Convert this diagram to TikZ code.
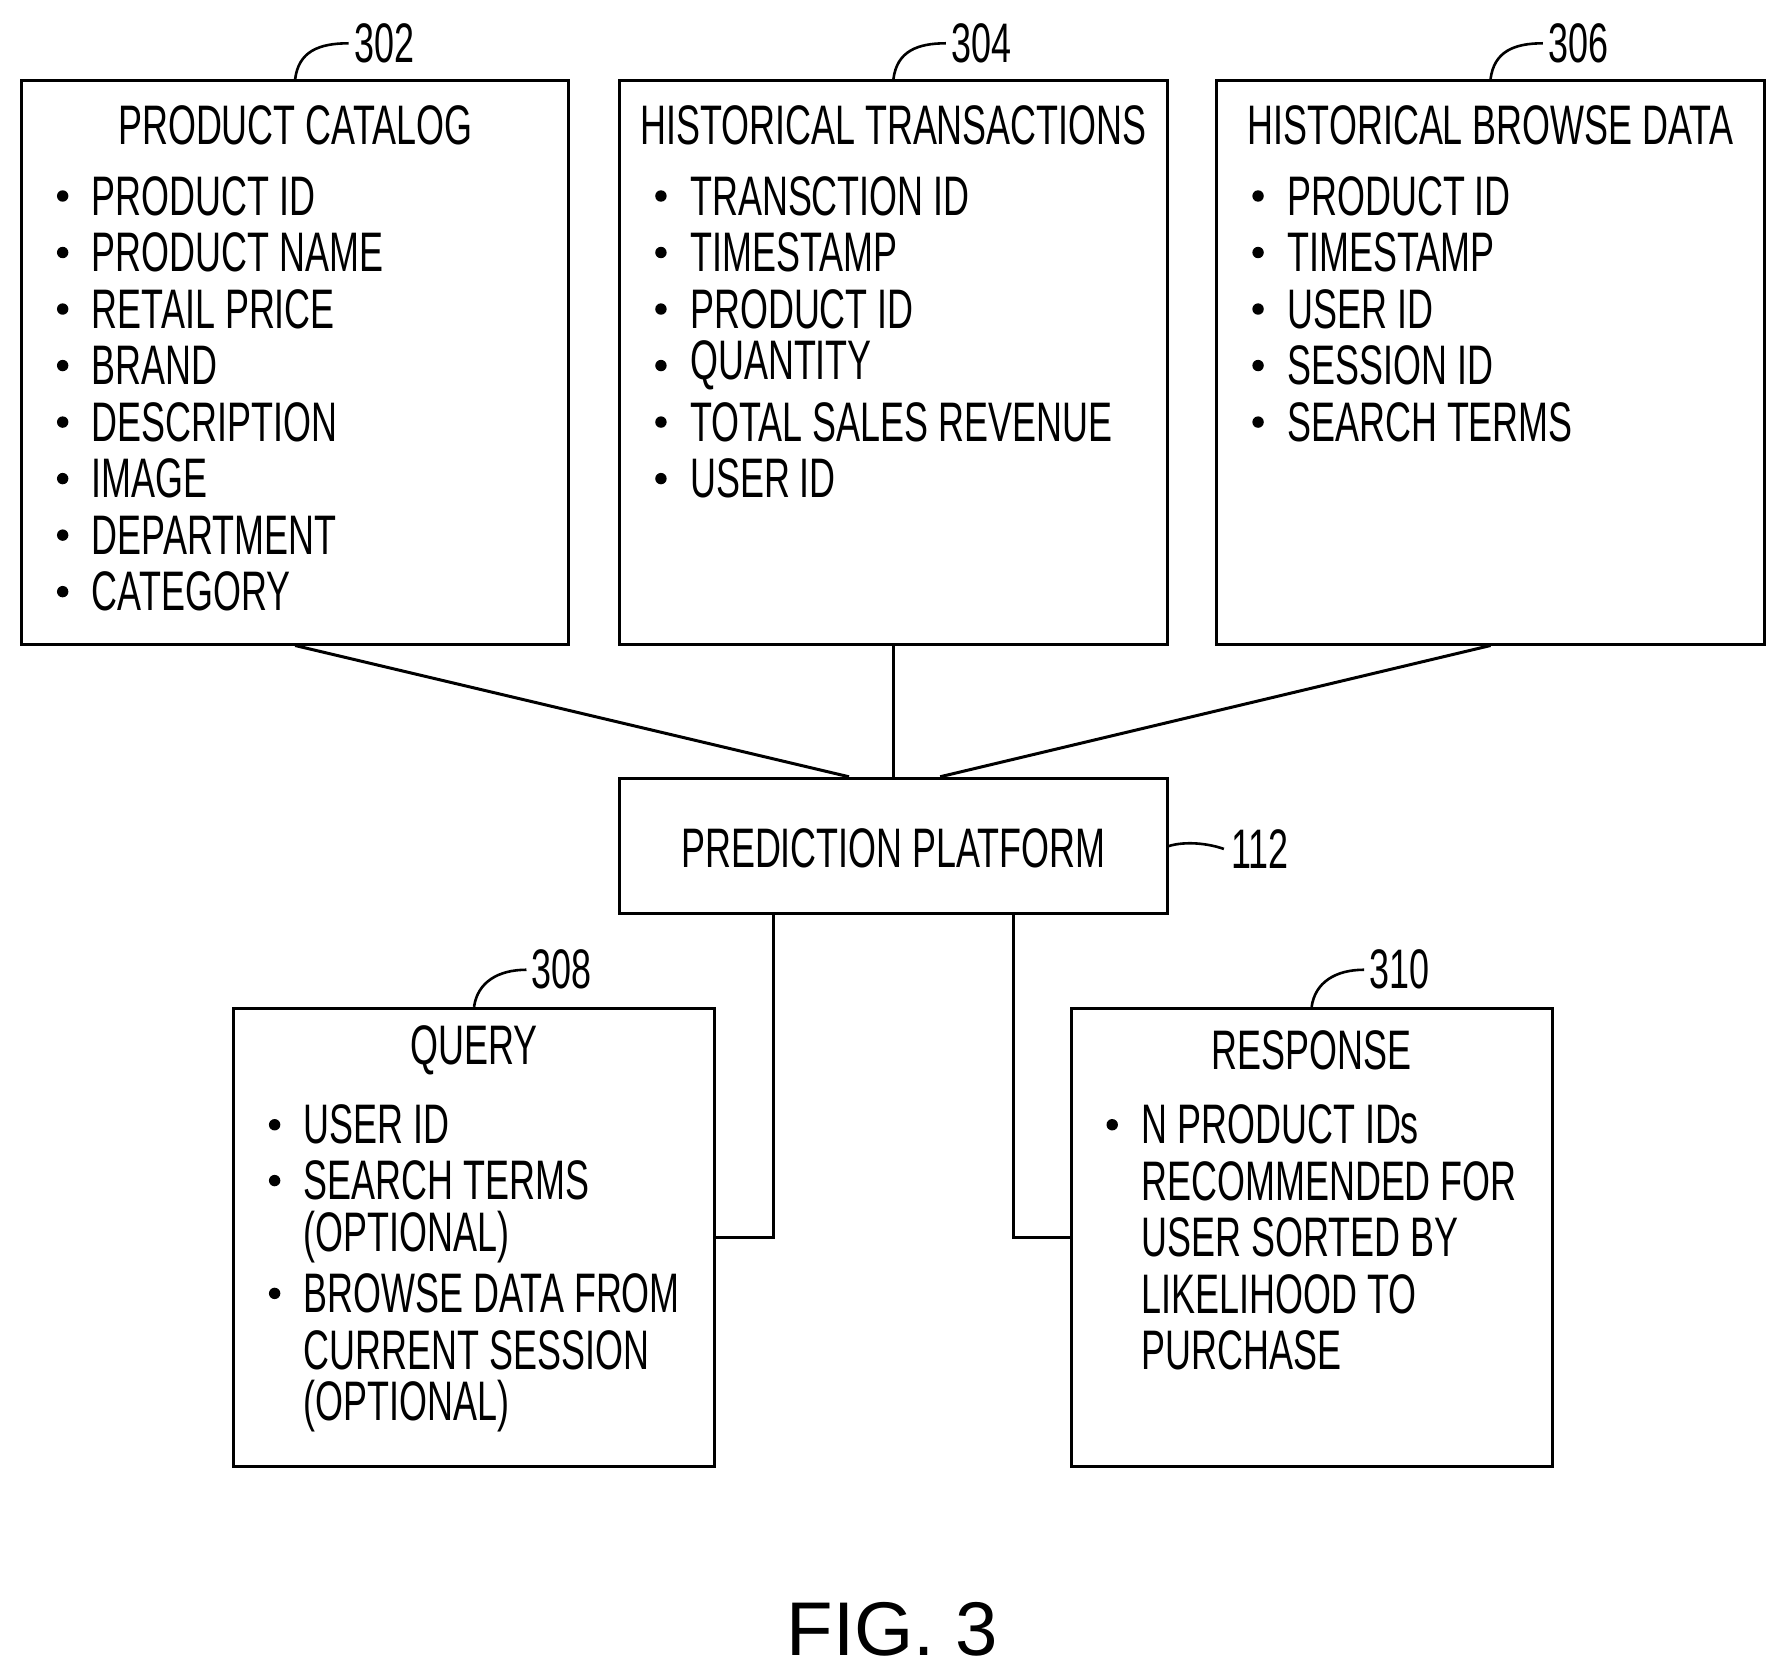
\documentclass[tikz,border=0pt]{standalone}
\usepackage{fontspec}
\setmainfont{Liberation Sans}[FakeStretch=0.645]
\usetikzlibrary{calc}
\begin{document}
\begin{tikzpicture}[x=0.01cm,y=-0.01cm,
  txt/.style={anchor=west,inner sep=0,font=\fontsize{13.9}{14}\selectfont},
  ttl/.style={inner sep=0,font=\fontsize{13.9}{14}\selectfont},
  ln/.style={line width=0.75pt},
  sq/.style={line width=0.65pt},
  bul/.style={circle,fill,inner sep=0,minimum size=0.1cm}]
\useasboundingbox (0,0) rectangle (1562,1470);
\newcommand\blist[4]{% x, y0, spacing, items
  \foreach \t [count=\i from 0] in {#4}{
    \node[bul] at (#1-25,#2+\i*#3) {};
    \node[txt] at (#1,#2+\i*#3) {\t};}}
% boxes
\node[inner sep=0,minimum width=4.8cm,minimum height=4.94cm,draw,ln] (A) at (259,318) {};
\node[inner sep=0,minimum width=4.8cm,minimum height=4.94cm,draw,ln] (B) at (784,318) {};
\node[inner sep=0,minimum width=4.8cm,minimum height=4.94cm,draw,ln] (C) at (1308,318) {};
\node[inner sep=0,minimum width=4.8cm,minimum height=1.19cm,draw,ln] (P) at (784,742.5) {};
\node[inner sep=0,minimum width=4.22cm,minimum height=4.02cm,draw,ln] (Q) at (416,1086) {};
\node[inner sep=0,minimum width=4.22cm,minimum height=4.02cm,draw,ln] (R) at (1151,1086) {};
% titles
\node[ttl] at (259,110) {PRODUCT CATALOG};
\node[ttl] at (784,110) {HISTORICAL TRANSACTIONS};
\node[ttl] at (1308,110) {HISTORICAL BROWSE DATA};
\node[ttl] (pt) at (784,744) {PREDICTION PLATFORM};
\node[ttl] at (416,922) {QUERY};
\node[ttl] at (1151,922) {RESPONSE};
\blist{80}{172}{49.6}{PRODUCT ID,PRODUCT NAME,RETAIL PRICE,BRAND,DESCRIPTION,IMAGE,DEPARTMENT,CATEGORY}
\blist{605}{172}{49.6}{TRANSCTION ID,TIMESTAMP,PRODUCT ID,QUANTITY,TOTAL SALES REVENUE,USER ID}
\blist{1129}{172}{49.6}{PRODUCT ID,TIMESTAMP,USER ID,SESSION ID,SEARCH TERMS}
\node[bul] at (241,987) {};
\node[txt] at (266,987) {USER ID};
\node[bul] at (241,1036) {};
\node[txt] at (266,1036) {SEARCH TERMS};
\node[txt] at (266,1086) {(OPTIONAL)};
\node[bul] at (241,1135) {};
\node[txt] at (266,1135) {BROWSE DATA FROM};
\node[txt] at (266,1185) {CURRENT SESSION};
\node[txt] at (266,1234) {(OPTIONAL)};
\node[bul] at (976,987) {};
\foreach \t [count=\i from 0] in {N PRODUCT IDs,RECOMMENDED FOR,USER SORTED BY,LIKELIHOOD TO,PURCHASE}
  \node[txt] at (1001,987+\i*49.5) {\t};
% connectors
\draw[ln] (A.south) -- ($(P.north)+(-39,0)$);
\draw[ln] (B.south) -- (P.north);
\draw[ln] (C.south) -- ($(P.north)+(41,0)$);
\draw[ln] ($(P.south)+(-105,0)$) |- (Q.east);
\draw[ln] ($(P.south)+(105,0)$) |- (R.west);
% reference labels
\node[ttl,anchor=west] (l302) at (310,38) {302};
\node[ttl,anchor=west] (l304) at (834,38) {304};
\node[ttl,anchor=west] (l306) at (1358,38) {306};
\node[ttl,anchor=west] (l112) at (1080,745) {112};
\node[ttl,anchor=west] (l308) at (466,851) {308};
\node[ttl,anchor=west] (l310) at (1201,851) {310};
\draw[sq] (A.north) .. controls (262,45) and (280,38) .. ($(l302.west)+(-4,0)$);
\draw[sq] (B.north) .. controls (787,45) and (805,38) .. ($(l304.west)+(-4,0)$);
\draw[sq] (C.north) .. controls (1311,45) and (1329,38) .. ($(l306.west)+(-4,0)$);
\draw[sq] (Q.north) .. controls (419,862) and (437,851) .. ($(l308.west)+(-4,0)$);
\draw[sq] (R.north) .. controls (1154,862) and (1172,851) .. ($(l310.west)+(-4,0)$);
\draw[sq] (P.east) .. controls (1040,738) and (1060,740) .. ($(l112.west)+(-6,0)$);
\node[inner sep=0,font=\fontsize{19}{20}\selectfont\addfontfeature{FakeStretch=1}] (fig) at (783,1430) {FIG. 3};
\end{tikzpicture}
\end{document}
